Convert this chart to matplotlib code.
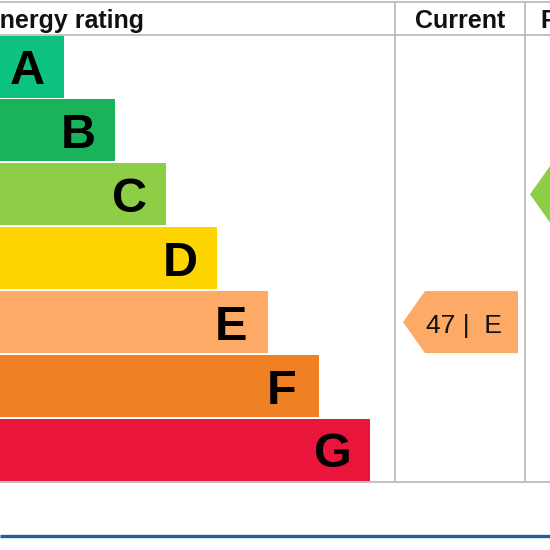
import matplotlib.pyplot as plt
from matplotlib.patches import Polygon

# EPC bands and the ratings shown
bands = ["A", "B", "C", "D", "E", "F", "G"]
band_colors = ["#0cc27e", "#1bb35a", "#8dce46", "#ffd500", "#fcaa65", "#ef8023", "#e9153b"]
current_score = 47
current_band = "E"
potential_band = "C"

plt.rcParams["font.family"] = ["Liberation Sans", "DejaVu Sans"]

fig = plt.figure(figsize=(5.5, 5.5), dpi=100)
ax = fig.add_axes([0, 0, 1, 1])
ax.set_xlim(0, 550)
ax.set_ylim(550, 0)
ax.axis("off")

# table geometry (pixels)
top, head, row_h, bar_h = 2, 34.5, 63.9, 62
first_w, step_w = 64, 51
col1, col2 = 395, 525
bottom = head + row_h * len(bands)

for i, (b, c) in enumerate(zip(bands, band_colors)):
    y = head + 1 + i * row_h
    w = first_w + i * step_w
    ax.barh(y + bar_h / 2, w, height=bar_h, left=0, color=c, edgecolor="none")
    ax.text(w - 37, y + bar_h / 2 + 17.5, b, ha="center", va="baseline",
            fontsize=35, fontweight="bold", color="black")

grid = "#b8b8b8"
ax.hlines([top, head, bottom], 0, 550, color=grid, lw=1.2)
ax.vlines([col1, col2], top, bottom, color=grid, lw=1.2)

ax.text(-17, 28, "Energy rating", ha="left", va="baseline",
        fontsize=18, fontweight="bold", color="#111111")
ax.text((col1 + col2) / 2, 28, "Current", ha="center", va="baseline",
        fontsize=18, fontweight="bold", color="#111111")
ax.text(col2 + 15, 28, "Potential", ha="left", va="baseline",
        fontsize=18, fontweight="bold", color="#111111")


def arrow(x0, x1, band):
    i = bands.index(band)
    y0 = head + 1 + i * row_h
    y1 = y0 + bar_h
    ym = (y0 + y1) / 2
    pts = [(x0, ym), (x0 + 22, y0), (x1, y0), (x1, y1), (x0 + 22, y1)]
    ax.add_patch(Polygon(pts, closed=True, color=band_colors[i], lw=0))
    return ym


ym = arrow(403, 518, current_band)
ax.text(463.5, ym + 10.5, f"{current_score} |  {current_band}", ha="center",
        va="baseline", fontsize=19, color="#111111")

arrow(530, 650, potential_band)

ax.hlines(536, 0, 550, color="#1f5fa6", lw=2.4)

fig.savefig("out.png", dpi=100)
